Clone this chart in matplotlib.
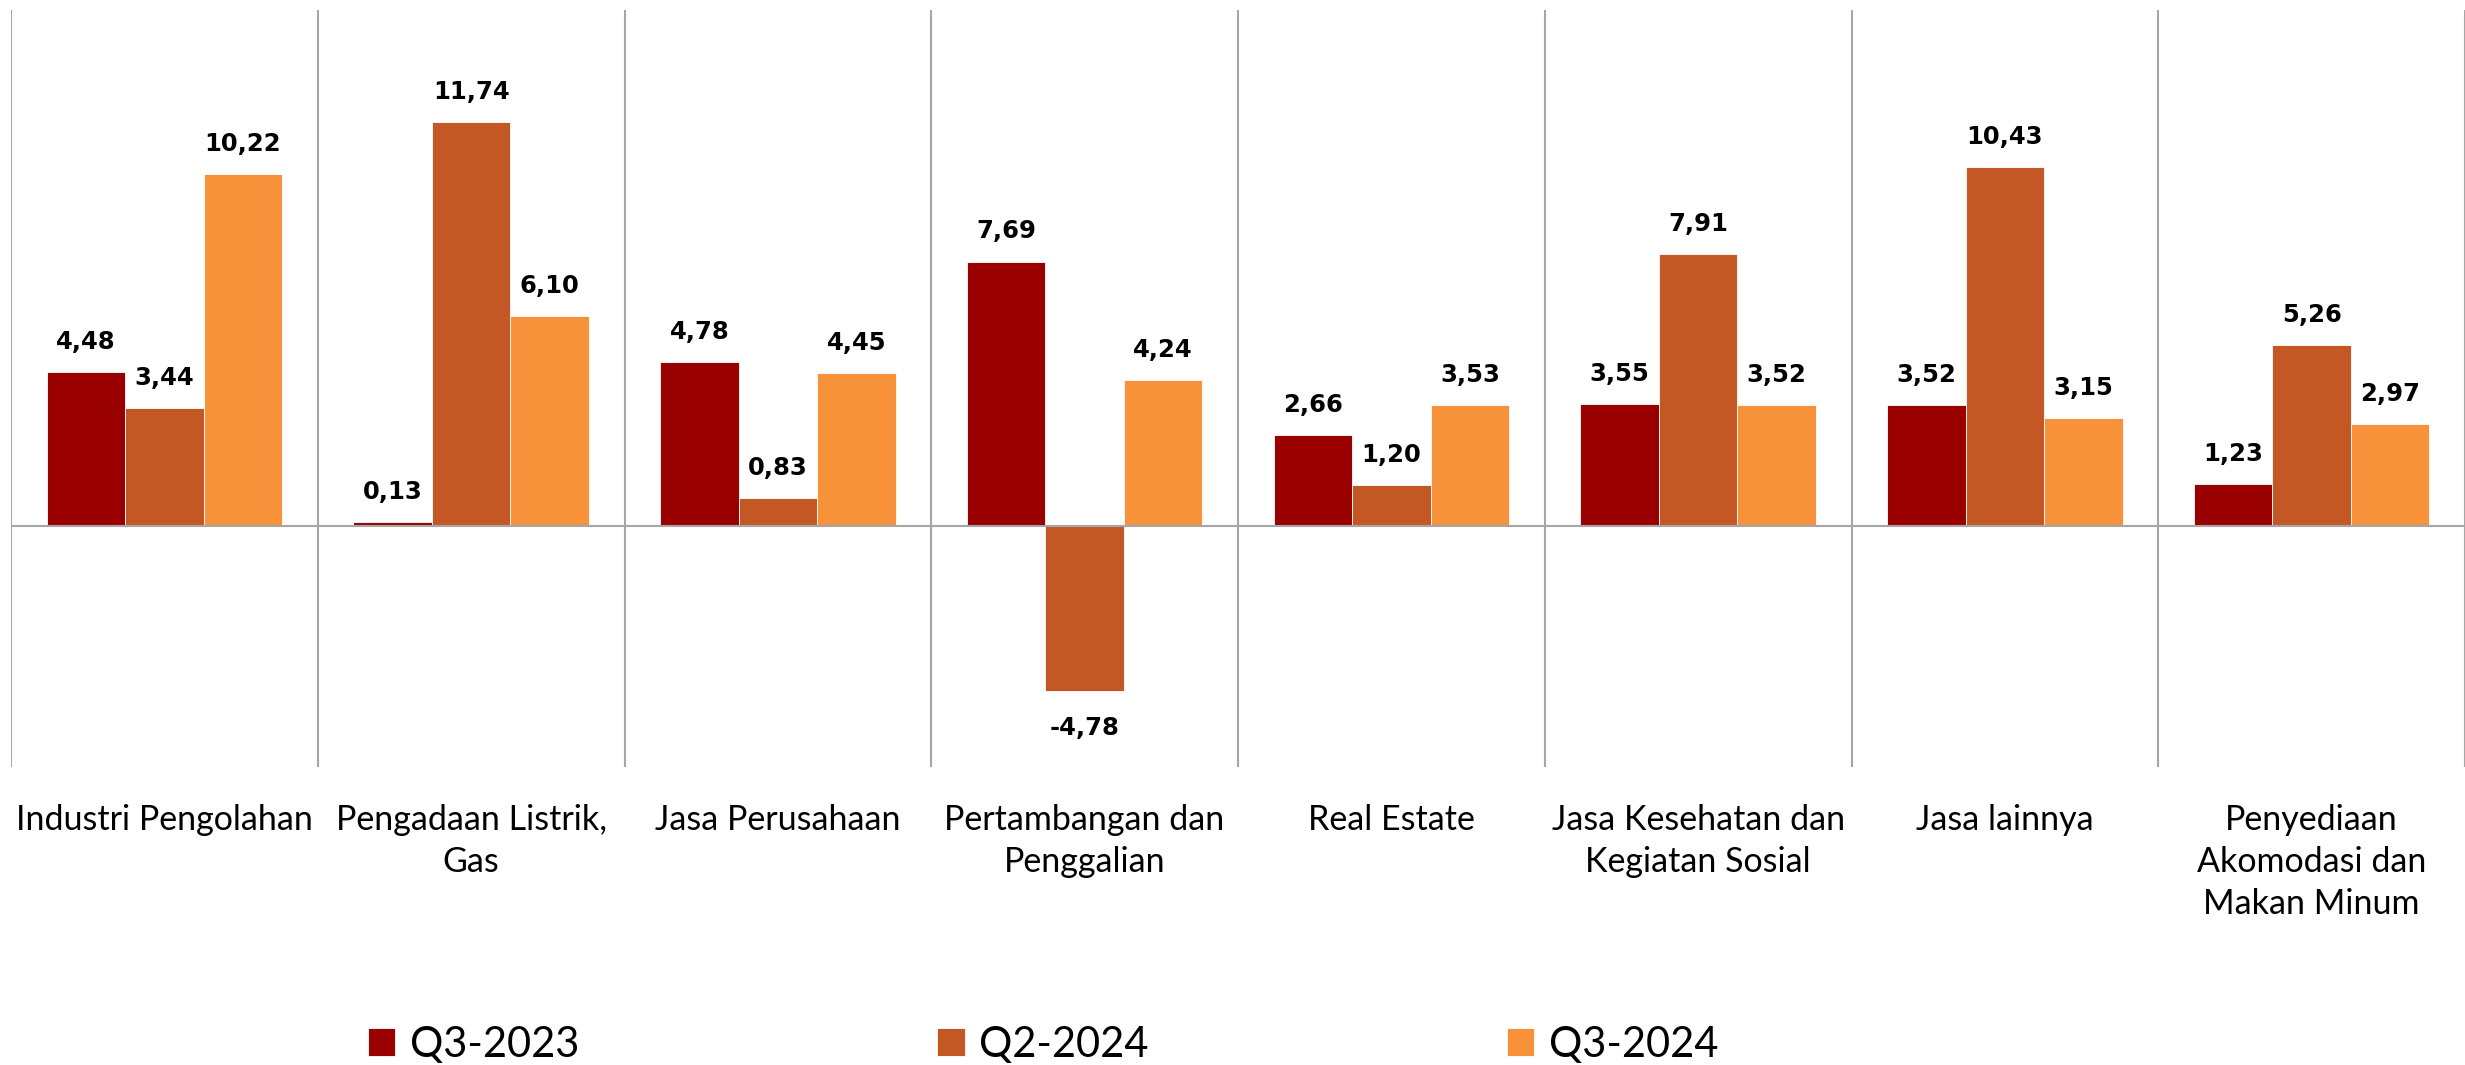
import matplotlib
matplotlib.use("Agg")
import matplotlib.pyplot as plt
import numpy as np

# ── Data ──────────────────────────────────────────────────────────────────────
categories = [
    "Industri Pengolahan",
    "Pengadaan Listrik,\nGas",
    "Jasa Perusahaan",
    "Pertambangan dan\nPenggalian",
    "Real Estate",
    "Jasa Kesehatan dan\nKegiatan Sosial",
    "Jasa lainnya",
    "Penyediaan\nAkomodasi dan\nMakan Minum",
]
series_names = ["Q3-2023", "Q2-2024", "Q3-2024"]
q3_2023 = [4.48, 0.13, 4.78, 7.69, 2.66, 3.55, 3.52, 1.23]
q2_2024 = [3.44, 11.74, 0.83, -4.78, 1.20, 7.91, 10.43, 5.26]
q3_2024 = [10.22, 6.10, 4.45, 4.24, 3.53, 3.52, 3.15, 2.97]

colors = ["#9A0000", "#C45824", "#F7923A"]
grid_color = "#A6A6A6"

# ── Figure ────────────────────────────────────────────────────────────────────
W, H = 2465, 1065
fig = plt.figure(figsize=(W / 100, H / 100), dpi=100)
ax = fig.add_axes([11 / W, 1 - 767 / H, 1 - 11 / W, (767 - 10) / H])

x = np.arange(len(categories))
width = 0.256
offsets = [-width, 0, width]

for vals, off, col, name in zip([q3_2023, q2_2024, q3_2024], offsets, colors, series_names):
    bars = ax.bar(x + off, vals, width=width, color=col, edgecolor="white",
                  linewidth=0.6, zorder=3, label=name)
    for bar, v in zip(bars, vals):
        txt = f"{v:.2f}".replace(".", ",")
        if v >= 0:
            ax.annotate(txt, (bar.get_x() + bar.get_width() / 2, v),
                        xytext=(0, 13), textcoords="offset points",
                        ha="center", va="bottom", fontsize=17.5,
                        fontweight="bold", family="DejaVu Sans", color="black")
        else:
            ax.annotate(txt, (bar.get_x() + bar.get_width() / 2, v),
                        xytext=(0, -18), textcoords="offset points",
                        ha="center", va="top", fontsize=17.5,
                        fontweight="bold", family="DejaVu Sans", color="black")

# category separators and zero line
for sep in np.arange(-0.5, len(categories) + 0.5, 1.0):
    ax.axvline(sep, color=grid_color, linewidth=1.5, zorder=1)
ax.axhline(0, color=grid_color, linewidth=1.5, zorder=4)

ax.set_xlim(-0.5, len(categories) - 0.5)
ax.set_ylim(-7, 15)
ax.set_yticks([])
ax.set_xticks(x)
ax.set_xticklabels(categories, family="Lato", fontsize=24.5, linespacing=1.38,
                   va="top")
ax.tick_params(axis="x", length=0, pad=27)
for s in ax.spines.values():
    s.set_visible(False)

# ── Legend ────────────────────────────────────────────────────────────────────
fig.legend(loc="center", bbox_to_anchor=(1043 / W, 1 - 1045 / H), ncol=3,
           frameon=False, prop={"family": "Lato", "size": 30},
           handlelength=0.65, handleheight=0.65, handletextpad=0.35,
           columnspacing=8.6, borderaxespad=0)

fig.savefig("out.png", dpi=100)
